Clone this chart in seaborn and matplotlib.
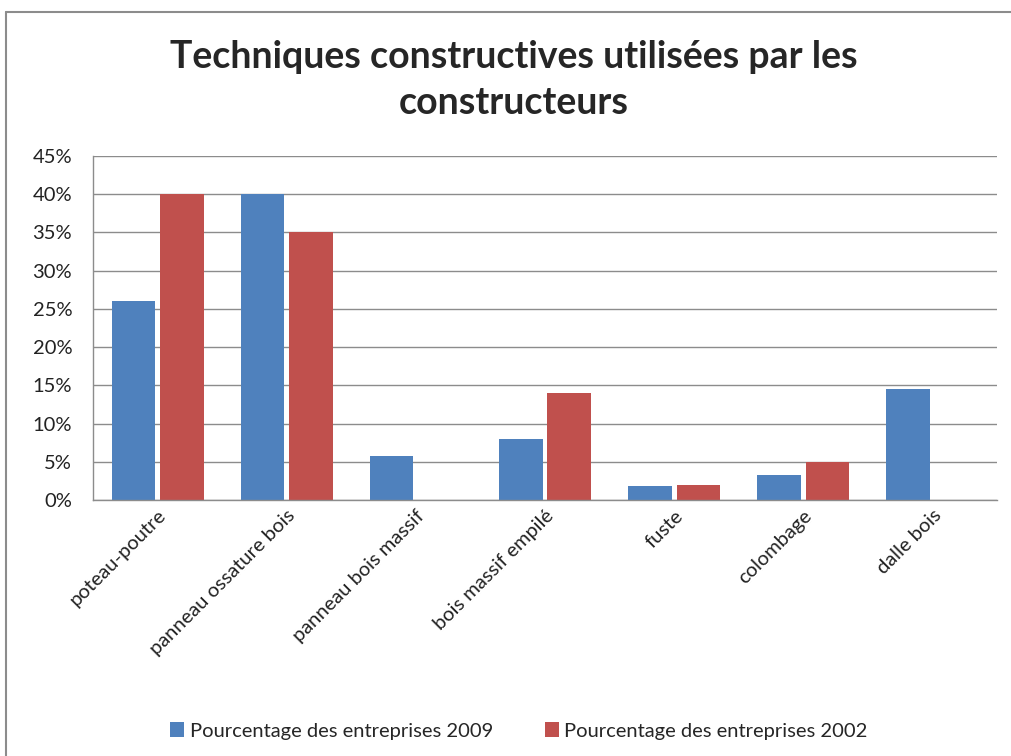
import pandas as pd
import numpy as np
import seaborn as sns
import matplotlib.pyplot as plt
from matplotlib.lines import Line2D
from matplotlib.ticker import FuncFormatter

categories = ["poteau-poutre", "panneau ossature bois", "panneau bois massif",
              "bois massif empilé", "fuste", "colombage", "dalle bois"]
pct_2009 = [26.0, 40.0, 5.7, 8.0, 1.8, 3.3, 14.5]
pct_2002 = [40.0, 35.0, 0.0, 14.0, 2.0, 5.0, 0.0]
series_names = ["Pourcentage des entreprises 2009", "Pourcentage des entreprises 2002"]
colors = ["#4F81BD", "#C0504D"]

df = pd.DataFrame({
    "technique": categories * 2,
    "pct": pct_2009 + pct_2002,
    "serie": [series_names[0]] * len(categories) + [series_names[1]] * len(categories),
})

sns.set_style("white")
plt.rcParams["font.family"] = ["Lato", "DejaVu Sans"]

fig = plt.figure(figsize=(10.11, 7.56), dpi=100)
ax = fig.add_axes([93 / 1011, 1 - 500 / 756, (997 - 93) / 1011, (500 - 156) / 756])

sns.barplot(data=df, x="technique", y="pct", hue="serie", palette=colors,
            width=0.75, gap=0.1, linewidth=0, saturation=1, ax=ax, legend=True)

ax.set_ylim(0, 45)
ax.set_yticks(np.arange(0, 46, 5))
ax.yaxis.set_major_formatter(FuncFormatter(lambda v, p: f"{v:.0f}%"))
ax.grid(axis="y", color="#8c8c8c", linewidth=1)
ax.set_axisbelow(True)
ax.set_xlabel("")
ax.set_ylabel("")
for side in ["top", "right"]:
    ax.spines[side].set_visible(False)
for side in ["left", "bottom"]:
    ax.spines[side].set_color("#8c8c8c")
    ax.spines[side].set_linewidth(1)
ax.tick_params(axis="both", length=0, labelsize=14.5, colors="#222222")
ax.tick_params(axis="y", pad=15)
ax.tick_params(axis="x", pad=5)
plt.setp(ax.get_xticklabels(), rotation=45, ha="right", rotation_mode="anchor")

handles, labels = ax.get_legend_handles_labels()
ax.legend_.remove()
fig.legend(handles, labels, loc="center", bbox_to_anchor=(519 / 1011, 1 - 731 / 756), ncol=2,
           frameon=False, fontsize=14.5, handlelength=0.7, handleheight=0.7,
           handletextpad=0.25, columnspacing=2.6)

fig.text(0.508, 1 - 80 / 756, "Techniques constructives utilisées par les\nconstructeurs",
         ha="center", va="center", fontsize=27, fontweight="bold", linespacing=1.45)

fig.add_artist(Line2D([6 / 1011, 1], [1 - 12 / 756, 1 - 12 / 756], color="#8c8c8c", lw=1.5))
fig.add_artist(Line2D([6 / 1011, 6 / 1011], [0, 1 - 12 / 756], color="#8c8c8c", lw=1.5))

fig.savefig("out.png", dpi=100)
